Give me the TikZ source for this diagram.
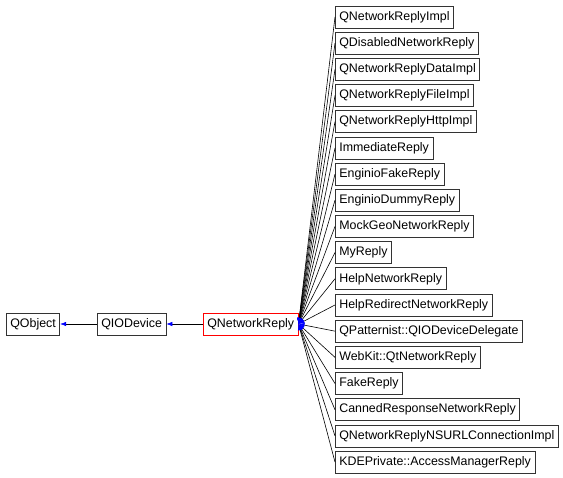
\documentclass[tikz,border=0pt]{standalone}
\usepackage{fontspec}
\setmainfont{Liberation Sans}
\usetikzlibrary{arrows.meta}
\begin{document}
\begin{tikzpicture}[x=1pt,y=-1pt,
    cls/.style={draw=black!80, line width=0.7pt, fill=white, anchor=west,
        inner xsep=4pt, inner ysep=0pt, minimum height=22pt,
        font=\fontsize{12.4}{14}\selectfont},
    inherit/.style={draw=black, line width=0.6pt,
        -{Latex[length=6pt,width=4.5pt,color=blue]}}]
    \useasboundingbox (0,0) rectangle (563,478);

    % Base classes
    \node[cls] (qobject) at (6,324) {QObject};
    \node[cls] (qiodevice) at (97,324) {QIODevice};
    \node[cls, draw=red] (qnetworkreply) at (203,324) {QNetworkReply};
    \draw[inherit] (qiodevice) -- (qobject);
    \draw[inherit] (qnetworkreply) -- (qiodevice);

    % Derived classes
    \foreach \txt [count=\i] in {QNetworkReplyImpl, QDisabledNetworkReply,
        QNetworkReplyDataImpl, QNetworkReplyFileImpl, QNetworkReplyHttpImpl,
        ImmediateReply, EnginioFakeReply, EnginioDummyReply,
        MockGeoNetworkReply, MyReply, HelpNetworkReply,
        HelpRedirectNetworkReply, QPatternist::QIODeviceDelegate,
        WebKit::QtNetworkReply, FakeReply, CannedResponseNetworkReply,
        QNetworkReplyNSURLConnectionImpl, KDEPrivate::AccessManagerReply} {
        \node[cls] (sub\i) at (335,{17+26.18*(\i-1)}) {\txt};
        \draw[inherit] (sub\i.west) -- (qnetworkreply.east);
    }
\end{tikzpicture}
\end{document}
